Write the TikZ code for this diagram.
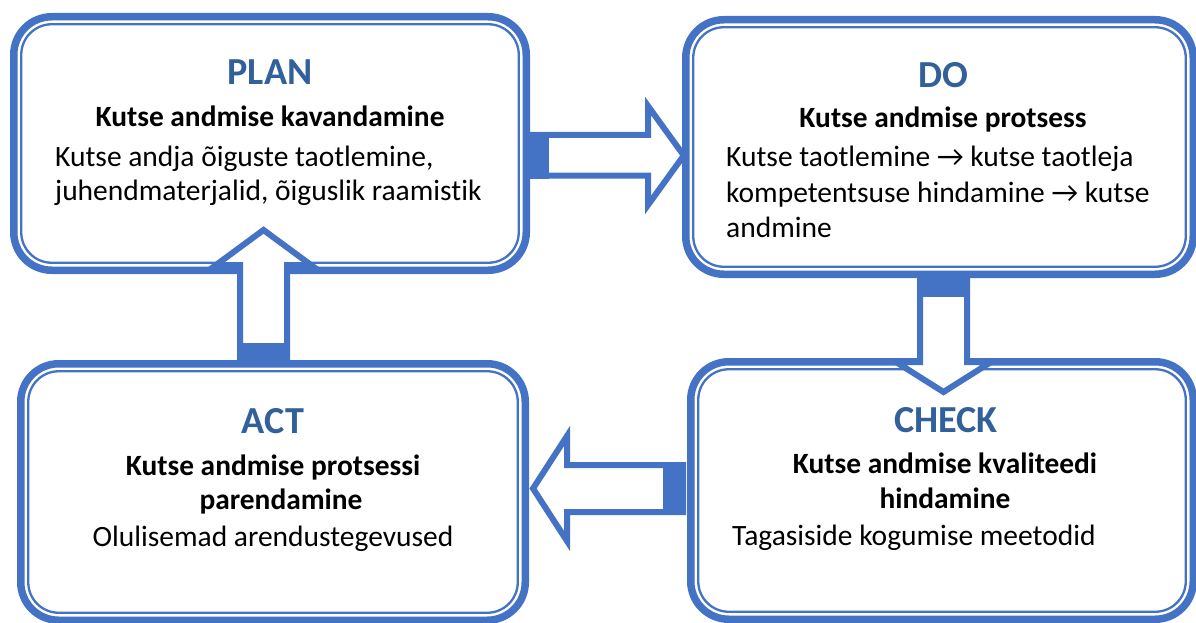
\documentclass[tikz,border=0pt]{standalone}
\usepackage{fontspec}
\setmainfont[Ligatures=NoCommon]{Carlito}
\usetikzlibrary{calc}
\definecolor{boxblue}{HTML}{4472C4}
\definecolor{titleblue}{HTML}{31609A}
\tikzset{
  box/.style={shape=rectangle, draw=boxblue, fill=white, line width=7.5pt, rounded corners=38pt, inner sep=0pt, outer sep=0pt},
  innerline/.style={draw=boxblue, line width=2.3pt, rounded corners=30.5pt},
  blockarrow/.style={draw=boxblue, fill=white, line width=6pt, line join=miter},
  tailblock/.style={fill=boxblue, draw=none},
  ttl/.style={anchor=base, inner sep=0pt, text=titleblue, font=\fontsize{38.2}{42}\selectfont\bfseries},
  sub/.style={anchor=base, inner sep=0pt, font=\fontsize{29.4}{35}\selectfont\bfseries},
  bodyl/.style={anchor=base west, inner sep=0pt, font=\fontsize{29.5}{35}\selectfont},
  bodyc/.style={anchor=base, inner sep=0pt, font=\fontsize{29.5}{35}\selectfont},
}
\begin{document}
\begin{tikzpicture}[x=1pt,y=-1pt]
\useasboundingbox (0,0) rectangle (1196,623);
\clip (0,0) rectangle (1196,623);
% boxes
\node[box, minimum width=512.5pt, minimum height=253.5pt] (plan) at (270,143.5) {};
\node[box, minimum width=507.5pt, minimum height=254.5pt] (do) at (939.5,147) {};
\node[box, minimum width=504.5pt, minimum height=256.5pt] (act) at (273,492) {};
\node[box, minimum width=502.5pt, minimum height=257.5pt] (check) at (942,490.5) {};
\foreach \n in {plan,do,act,check}
  \draw[innerline] ([shift={(7.5,7.5)}]\n.north west) rectangle ([shift={(-7.5,-7.5)}]\n.south east);
% arrow PLAN -> DO
\coordinate (pdtail) at (plan.east |- 0,155.5);
\coordinate (pdtip) at ($(do.west |- 0,155.5)+(-2,0)$);
\draw[blockarrow] ($(pdtail)+(0,-20.5)$) -- (648,135) -- (648,106) -- (pdtip) -- (648,205) -- (648,175.5) -- ($(pdtail)+(0,20)$) -- cycle;
\fill[tailblock] (527,132) rectangle (549,178.5);
% arrow DO -> CHECK
\coordinate (dctail) at (943.5,280);
\coordinate (dctip) at (943.5,392);
\draw[blockarrow] (920,280) -- (920,362) -- (896,362) -- (dctip) -- (991,362) -- (967,362) -- (967,280) -- cycle;
\fill[tailblock] (917,277) rectangle (970,297);
% arrow CHECK -> ACT
\coordinate (catip) at (533,488.5);
\draw[blockarrow] (683,465) -- (567,465) -- (567,436) -- (catip) -- (567,541) -- (567,512) -- (683,512) -- cycle;
\fill[tailblock] (663,462) rectangle (684,515);
% arrow ACT -> PLAN
\coordinate (aptip) at (263.5,230);
\draw[blockarrow] (240,358) -- (240,265) -- (216,265) -- (aptip) -- (311,265) -- (287,265) -- (287,358) -- cycle;
\fill[tailblock] (237,343) rectangle (290,361);
% texts PLAN
\node[ttl] (plant) at (270,85) {PLAN};
\node[sub] (plans) at (270,127) {Kutse andmise kavandamine};
\node[bodyl] (planb1) at (55,166) {Kutse andja õiguste taotlemine,};
\node[bodyl] (planb2) at (55,200) {juhendmaterjalid, õiguslik raamistik};
% texts DO
\node[ttl] (dot) at (943,88) {DO};
\node[sub] (dos) at (943,128) {Kutse andmise protsess};
\node[bodyl] (dob1) at (726,166) {Kutse taotlemine → kutse taotleja};
\node[bodyl] (dob2) at (726,202) {kompetentsuse hindamine → kutse};
\node[bodyl] (dob3) at (726,237) {andmine};
% texts ACT
\node[ttl] (actt) at (273,433) {ACT};
\node[sub] (acts1) at (273,475) {Kutse andmise protsessi};
\node[sub] (acts2) at (281,509) {parendamine};
\node[bodyc] (actb) at (273,546) {Olulisemad arendustegevused};
% texts CHECK
\node[ttl] (checkt) at (946,432) {CHECK};
\node[sub] (checks1) at (945,473) {Kutse andmise kvaliteedi};
\node[sub] (checks2) at (945,508) {hindamine};
\node[bodyl] (checkb) at (732,545) {Tagasiside kogumise meetodid};
\end{tikzpicture}
\end{document}
